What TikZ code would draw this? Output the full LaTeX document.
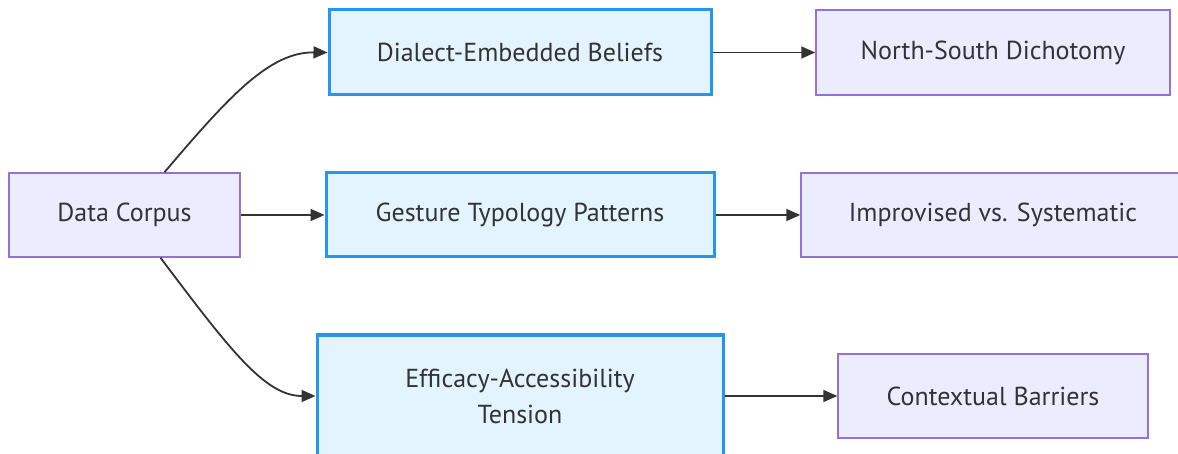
\documentclass[tikz,border=0pt]{standalone}
\usepackage{fontspec}
\setmainfont{PT Sans}
\usetikzlibrary{arrows.meta}
\definecolor{inkgray}{HTML}{333333}
\definecolor{lavfill}{HTML}{ECECFF}
\definecolor{lavline}{HTML}{9370DB}
\definecolor{skyfill}{HTML}{E3F4FE}
\definecolor{skyline}{HTML}{2196F3}
\tikzset{
  every node/.style={font=\fontsize{26}{36}\selectfont, text=inkgray},
  plainbox/.style={draw=lavline, fill=lavfill, line width=1.5pt, rectangle, inner sep=0pt, align=center},
  themebox/.style={draw=skyline, fill=skyfill, line width=3pt, rectangle, inner sep=0pt, align=center},
  link/.style={draw=inkgray, line width=1.8pt, -{Triangle[length=14pt,width=12pt]}}
}
\begin{document}
\begin{tikzpicture}[x=1pt, y=-1pt]
  \clip (0,0) rectangle (1178,454);
  \useasboundingbox (0,0) rectangle (1178,454);
  \fill[white] (0,0) rectangle (1178,454);

  % source node
  \node[plainbox, minimum width=231pt, minimum height=84pt] (corpus) at (124.5,215) {Data Corpus};

  % middle column: themes
  \node[themebox, minimum width=382pt, minimum height=85pt] (beliefs) at (520,52.5) {Dialect-Embedded Beliefs};
  \node[themebox, minimum width=388pt, minimum height=84pt] (gesture) at (520,215) {Gesture Typology Patterns};
  \node[themebox, minimum width=406pt, minimum height=122pt] (tension) at (520,396) {Efficacy-Accessibility\\Tension};

  % right column: findings
  \node[plainbox, minimum width=354pt, minimum height=85pt] (dichotomy) at (993,52.5) {North-South Dichotomy};
  \node[plainbox, minimum width=384pt, minimum height=84pt] (improv) at (993,215) {Improvised vs. Systematic};
  \node[plainbox, minimum width=310pt, minimum height=84pt] (barriers) at (993,396) {Contextual Barriers};

  % connectors
  \draw[link] ([xshift=40pt]corpus.north) .. controls (230,95) and (270,52) .. (beliefs.west);
  \draw[link] (corpus.east) -- (gesture.west);
  \draw[link] ([xshift=36pt]corpus.south) .. controls (230,350) and (265,396) .. (tension.west);

  \draw[link] (beliefs.east) -- (dichotomy.west);
  \draw[link] (gesture.east) -- (improv.west);
  \draw[link] (tension.east) -- (barriers.west);
\end{tikzpicture}
\end{document}
